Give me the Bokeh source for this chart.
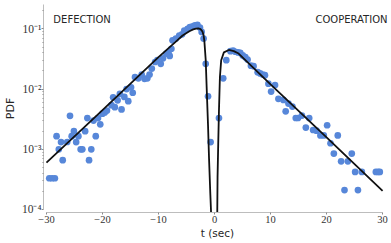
import math
from bokeh.plotting import figure
from bokeh.models import Range1d, FixedTicker, Label
from bokeh.embed import file_html
from bokeh.resources import INLINE

# ---- data ----
def_t = [-29.5, -29.0, -28.5, -28.2, -27.8, -27.4, -27.1, -26.3, -25.8, -25.5,
         -25.1, -24.7, -24.3, -23.9, -23.6, -23.1, -22.7, -22.4, -22.0, -21.6,
         -21.2, -20.8, -20.4, -20.0, -19.6, -19.2, -18.4, -18.1, -17.8, -17.3,
         -16.9, -16.6, -16.1, -15.7, -15.4, -14.9, -14.6, -14.2, -13.6, -13.0,
         -12.5, -12.0, -11.6, -11.2, -10.6, -10.2, -9.6, -9.2, -8.6, -8.2,
         -8.0, -7.7, -7.5, -6.9, -6.3, -5.8, -5.4, -4.8, -4.4, -3.9,
         -3.5, -3.05, -2.6, -2.3, -1.95, -1.57, -1.16, -0.70]
def_pdf = [3.3e-4, 3.3e-4, 3.3e-4, 1.65e-3, 1.0e-3, 1.32e-3, 6.6e-4, 1.32e-3, 3.6e-3, 1.65e-3,
           2.0e-3, 1.32e-3, 1.65e-3, 1.0e-3, 1.0e-3, 2.0e-3, 3.3e-3, 6.6e-4, 1.0e-3, 3.0e-3,
           1.65e-3, 3.3e-3, 2.6e-3, 3.9e-3, 4.1e-3, 4.4e-3, 5.4e-3, 7.3e-3, 5.0e-3, 6.5e-3,
           8.3e-3, 4.6e-3, 7.4e-3, 1.0e-2, 6.3e-3, 1.07e-2, 8.7e-3, 1.58e-2, 1.51e-2, 1.74e-2,
           1.48e-2, 1.51e-2, 1.74e-2, 2.19e-2, 2.82e-2, 3.02e-2, 2.63e-2, 3.24e-2, 3.89e-2, 4.17e-2,
           3.55e-2, 4.68e-2, 6.46e-2, 6.92e-2, 7.76e-2, 8.13e-2, 9.33e-2, 0.100, 0.107, 0.110,
           0.115, 0.117, 0.105, 0.089, 0.069, 2.63e-2, 7.6e-3, 1.32e-3]

coop_t = [0.79, 1.55, 2.1, 2.84, 3.31, 3.72, 4.2, 4.6, 5.03, 5.5,
          5.9, 6.5, 6.97, 7.7, 8.15, 8.6, 9.0, 9.62, 10.1, 10.8,
          11.4, 12.3, 12.7, 13.2, 13.9, 14.5, 14.9, 15.6, 16.3, 16.9,
          17.6, 18.2, 18.9, 19.5, 20.1, 20.7, 21.3, 22.0, 22.6, 23.2,
          23.8, 24.5, 25.1, 25.6, 26.3, 28.8, 29.2, 29.5]
coop_pdf = [3.3e-3, 1.51e-2, 3.02e-2, 4.27e-2, 4.37e-2, 4.17e-2, 4.07e-2, 3.98e-2, 3.63e-2, 3.39e-2,
            3.09e-2, 2.45e-2, 2.40e-2, 1.91e-2, 1.82e-2, 1.74e-2, 1.70e-2, 1.23e-2, 9.1e-3, 1.17e-2,
            6.9e-3, 6.6e-3, 4.27e-3, 5.75e-3, 5.13e-3, 3.31e-3, 3.31e-3, 3.63e-3, 2.29e-3, 3.31e-3,
            2.09e-3, 2.04e-3, 1.70e-3, 1.70e-3, 2.51e-3, 1.26e-3, 8.5e-4, 1.70e-3, 6.3e-4, 2.1e-4,
            6.3e-4, 8.5e-4, 4.2e-4, 2.1e-4, 4.2e-4, 4.2e-4, 4.2e-4, 4.2e-4]

# fitted model curves
def_fit_t = [-30, -20, -10, -7, -5.7, -4.5, -3.8, -3.3, -2.9, -2.5, -2.17, -1.95, -1.81, -1.57,
             -1.41, -1.16, -0.98, -0.75, -0.63, -0.55]
def_fit_pdf = [6.0e-4, 4.47e-3, 3.39e-2, 6.03e-2, 7.76e-2, 9.12e-2, 0.098, 0.101, 0.102, 0.099,
               0.091, 0.078, 0.062, 0.030, 1.1e-2, 2.5e-3, 7.0e-4, 1.8e-4, 9.5e-5, 1e-5]

coop_fit_t = [0.45, 0.49, 0.54, 0.66, 0.79, 0.96, 1.19, 1.67, 2.55, 3.44, 4.3, 10, 20, 30]
coop_fit_pdf = [1e-5, 9.5e-5, 3.47e-4, 1.23e-3, 4.37e-3, 1.58e-2, 3.02e-2, 4.07e-2, 4.47e-2,
                4.27e-2, 3.89e-2, 1.20e-2, 1.58e-3, 2.04e-4]

x_ticks = [-30, -20, -10, 0, 10, 20, 30]
x_tick_labels = ["\u221230", "\u221220", "\u221210", "0", "10", "20", "30"]
y_ticks = [1e-4, 1e-3, 1e-2, 1e-1]
y_tick_labels = ["10\u207b\u2074", "10\u207b\u00b3", "10\u207b\u00b2", "10\u207b\u00b9"]

# ---- figure ----
y_top = 10 ** -0.595
p = figure(width=391, height=243, y_axis_type="log",
           x_range=Range1d(-30.53, 31.59), y_range=Range1d(10 ** -4.05, y_top),
           output_backend="svg", toolbar_location=None,
           min_border_left=39, min_border_right=0, min_border_top=4, min_border_bottom=31)
p.outline_line_color = None
p.xgrid.visible = False
p.ygrid.visible = False
p.background_fill_color = "white"

blue = "#5787D9"
p.scatter(x=def_t, y=def_pdf, size=6.7, fill_color=blue, line_color=None)
p.scatter(x=coop_t, y=coop_pdf, size=6.7, fill_color=blue, line_color=None)
p.line(x=def_fit_t, y=def_fit_pdf, line_color="#111111", line_width=1.8)
p.line(x=coop_fit_t, y=coop_fit_pdf, line_color="#111111", line_width=1.8)

minor = [k * 10.0 ** e for e in (-4, -3, -2, -1) for k in range(2, 10) if k * 10.0 ** e < y_top]
p.yaxis.ticker = FixedTicker(ticks=y_ticks, minor_ticks=minor)
p.xaxis.ticker = FixedTicker(ticks=x_ticks)
p.xaxis.major_label_overrides = dict(zip(x_ticks, x_tick_labels))
p.yaxis.major_label_overrides = dict(zip(y_ticks, y_tick_labels))

for ax in (p.xaxis[0], p.yaxis[0]):
    ax.axis_line_color = "#bdbdbd"
    ax.axis_line_width = 1
    ax.major_tick_line_color = "#8a8a8a"
    ax.major_tick_in = 0
    ax.major_tick_out = 2
    ax.minor_tick_line_color = "#8a8a8a"
    ax.minor_tick_in = 0
    ax.minor_tick_out = 1
    ax.major_label_text_font = "Liberation Serif"
    ax.major_label_text_color = "#333333"
    ax.axis_label_text_font = "DejaVu Sans"
    ax.axis_label_text_font_style = "normal"
    ax.axis_label_text_color = "#262626"
p.xaxis.major_label_text_font_size = "10.5px"
p.yaxis.major_label_text_font_size = "11.5px"
p.xaxis.bounds = (-30, 30)
p.yaxis.bounds = (1e-4, y_top)
p.xaxis.major_label_standoff = 1
p.yaxis.major_label_standoff = 0

p.xaxis.axis_label = "t (sec)"
p.xaxis.axis_label_text_font_size = "10.5px"
p.xaxis.axis_label_standoff = 1
p.yaxis.axis_label = "PDF"
p.yaxis.axis_label_text_font_size = "11px"
p.yaxis.axis_label_standoff = 2

txt = dict(text_font="DejaVu Sans", text_font_size="10px", text_color="#262626")
p.add_layout(Label(x=-28.77, y=0.143, text="DEFECTION", text_align="left",
                   text_baseline="middle", **txt))
p.add_layout(Label(x=30.88, y=0.143, text="COOPERATION", text_align="right",
                   text_baseline="middle", **txt))

open("out.html", "w").write(file_html(p, INLINE))
